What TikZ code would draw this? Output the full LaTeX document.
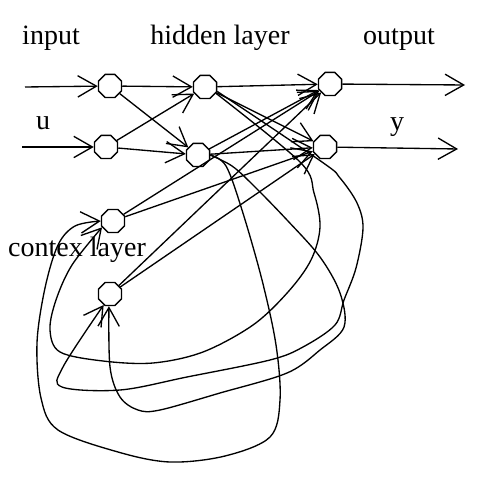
\documentclass[tikz,border=0pt]{standalone}
\usepackage{fontspec}
\setmainfont{Liberation Serif}
\usetikzlibrary{arrows.meta,shapes.geometric}
\tikzset{
  neuron/.style={draw,line width=0.5pt,regular polygon,regular polygon sides=8,
    minimum size=9.4pt,inner sep=0pt},
  wire/.style={line width=0.5pt,-{Straight Barb[length=7pt,width=8pt]}},
  loopback/.style={wire},
  lbl/.style={font=\fontsize{10.5}{12}\selectfont,anchor=base,inner sep=0pt},
}
\begin{document}
\begin{tikzpicture}[x=0.375pt,y=-0.375pt]
  \useasboundingbox (0,0) rectangle (483,490);
  % --- layers ---
  \node[neuron] (i1) at (110,86) {};
  \node[neuron] (i2) at (106,147) {};
  \node[neuron] (h1) at (205,87) {};
  \node[neuron] (h2) at (198,155) {};
  \node[neuron] (o1) at (330,84) {};
  \node[neuron] (o2) at (325,147) {};
  \node[neuron] (c1) at (113,221) {};
  \node[neuron] (c2) at (110,294) {};
  % --- texts ---
  \node[lbl] (tin) at (51,45) {input};
  \node[lbl] (thid) at (220,45) {hidden layer};
  \node[lbl] (tout) at (399,45) {output};
  \node[lbl] (tu) at (43,130) {u};
  \node[lbl] (ty) at (397,131) {y};
  \node[lbl] (tctx) at (77,257) {contex layer};
  % --- free ends ---
  \coordinate (u1) at (25,87);
  \coordinate (u2) at (22,147);
  \coordinate (y1) at (465,85);
  \coordinate (y2) at (458,149);
  % --- feed forward ---
  \draw[wire] (u1) -- (i1);
  \draw[wire] (u2) -- (i2);
  \draw[wire] (i1) -- (h1);
  \draw[wire] (i1) -- (h2);
  \draw[wire] (i2) -- (h1);
  \draw[wire] (i2) -- (h2);
  \draw[wire] (h1) -- (o1);
  \draw[wire] (h1) -- (o2);
  \draw[wire] (h2) -- (o1);
  \draw[wire] (h2) -- (o2);
  \draw[wire] (o1) -- (y1);
  \draw[wire] (o2) -- (y2);
  % context to output
  \draw[wire] (c1) -- (o1);
  \draw[wire] (c1) -- (o2);
  \draw[wire] (c2) -- (o1);
  \draw[wire] (c2) -- (o2);
  % --- copy back to context ---
  \draw[loopback] plot[smooth,tension=0.55] coordinates {(h2.east) (226,166) (242,210)
    (262,280) (276,345) (280,400) (270,437) (225,456) (170,462) (118,452) (58,430)
    (41,398) (37,343) (45,288) (58,245) (75,226) (c1.west)};
  \draw[loopback] plot[smooth,tension=0.55] coordinates {(h1.-30) (300,162) (314,193)
    (320,227) (311,260) (288,292) (253,325) (203,352) (153,363) (103,361) (60,352)
    (50,330) (56,300) (72,265) (c1.210)};
  \draw[loopback] plot[smooth,tension=0.55] coordinates {(h1.-20) (322,162) (340,178)
    (357,203) (363,228) (356,268) (344,300) (335,325) (303,347) (270,360) (187,377)
    (120,390) (62,387) (63,367) (c2.-120)};
  \draw[loopback] plot[smooth,tension=0.55] coordinates {(h2.east) (232,166) (253,185)
    (287,220) (320,257) (340,293) (344,327) (320,350) (287,373) (220,393) (160,410)
    (138,410) (120,397) (110,367) (c2.-95)};
\end{tikzpicture}
\end{document}
